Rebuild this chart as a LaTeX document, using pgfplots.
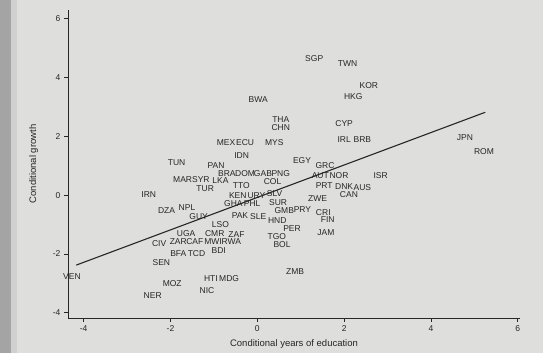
\documentclass[border=0pt]{standalone}
\usepackage{pgfplots}
\pgfplotsset{compat=1.18}
\usepackage{pgfplotstable}
\usepackage{fontspec}
\setmainfont{Liberation Sans}
\definecolor{bg}{HTML}{DEDEDC}
\definecolor{strip}{HTML}{A4A4A4}
\definecolor{strip2}{HTML}{D0D0D0}
\definecolor{ink}{HTML}{262626}

\pgfplotstableread{
x y lab
1.31 4.65 SGP
2.08 4.48 TWN
2.57 3.74 KOR
2.21 3.34 HKG
0.02 3.25 BWA
0.54 2.57 THA
0.54 2.29 CHN
2.00 2.44 CYP
2.00 1.89 IRL
2.42 1.89 BRB
4.78 1.96 JPN
5.22 1.47 ROM
0.39 1.78 MYS
-0.72 1.78 MEX
-0.28 1.78 ECU
-0.36 1.36 IDN
-1.86 1.11 TUN
1.03 1.17 EGY
1.56 1.00 GRC
1.45 0.66 AUT
1.88 0.66 NOR
2.84 0.66 ISR
-0.95 0.99 PAN
-1.72 0.54 MAR
-1.30 0.54 SYR
-0.85 0.48 LKA
-1.20 0.23 TUR
-0.37 0.32 TTO
-0.70 0.72 BRA
-0.28 0.74 DOM
0.13 0.74 GAB
0.54 0.74 PNG
0.35 0.45 COL
1.54 0.32 PRT
2.00 0.30 DNK
2.42 0.26 AUS
2.11 0.02 CAN
-2.50 0.02 IRN
1.39 -0.11 ZWE
-0.45 0.00 KEN
-0.02 0.00 URY
0.40 0.07 SLV
-0.55 -0.30 GHA
-0.12 -0.30 PHL
0.48 -0.24 SUR
0.62 -0.51 GMB
1.04 -0.48 PRY
-2.09 -0.54 DZA
-1.62 -0.42 NPL
-1.35 -0.74 GUY
1.52 -0.58 CRI
1.62 -0.84 FIN
-0.40 -0.70 PAK
0.02 -0.74 SLE
0.46 -0.86 HND
-0.85 -1.00 LSO
0.80 -1.14 PER
0.45 -1.40 TGO
0.57 -1.67 BOL
1.58 -1.27 JAM
-1.64 -1.30 UGA
-1.82 -1.59 ZAR
-1.44 -1.59 CAF
-1.02 -1.59 MWI
-0.60 -1.59 RWA
-0.98 -1.30 CMR
-0.48 -1.33 ZAF
-2.26 -1.64 CIV
-0.89 -1.90 BDI
-1.82 -1.98 BFA
-1.40 -1.98 TCD
-2.21 -2.29 SEN
-4.27 -2.78 VEN
-1.96 -3.00 MOZ
-2.41 -3.42 NER
-1.07 -2.85 HTI
-0.65 -2.85 MDG
-1.16 -3.25 NIC
0.87 -2.61 ZMB
}\countries

\begin{document}
\begin{tikzpicture}
\useasboundingbox (0pt,0pt) rectangle (543pt,353pt);
\fill[bg] (0pt,0pt) rectangle (543pt,353pt);
\fill[strip] (0pt,0pt) rectangle (11pt,353pt);
\fill[strip2] (11pt,0pt) rectangle (17pt,353pt);
\begin{axis}[
  at={(68pt,35pt)}, anchor=south west,
  scale only axis, width=452pt, height=308pt,
  xmin=-4.36, xmax=6.05, ymin=-4.18, ymax=6.3,
  axis x line*=bottom, axis y line*=left,
  axis line style={ink, line width=0.9pt},
  xtick={-4,-2,0,2,4,6}, ytick={-4,-2,0,2,4,6},
  tick align=outside, major tick length=4pt,
  tick style={ink, line width=0.7pt},
  ticklabel style={font=\fontsize{8.5}{9}\selectfont, text=ink},
  /pgf/number format/assume math mode=true,
  xlabel={Conditional years of education},
  ylabel={Conditional growth},
  label style={font=\fontsize{9.5}{10}\selectfont, text=ink},
  xlabel style={yshift=-1pt},
  ylabel style={yshift=8pt},
  clip=false,
]
\addplot[ink, line width=1.1pt] coordinates {(-4.17,-2.38) (5.25,2.82)};
\addplot[only marks, mark=none, nodes near coords, point meta=explicit symbolic,
  nodes near coords style={anchor=center, inner sep=0pt, text=ink, font=\fontsize{8.5}{9}\selectfont}]
  table[x=x, y=y, meta=lab] {\countries};
\end{axis}
\end{tikzpicture}
\end{document}
